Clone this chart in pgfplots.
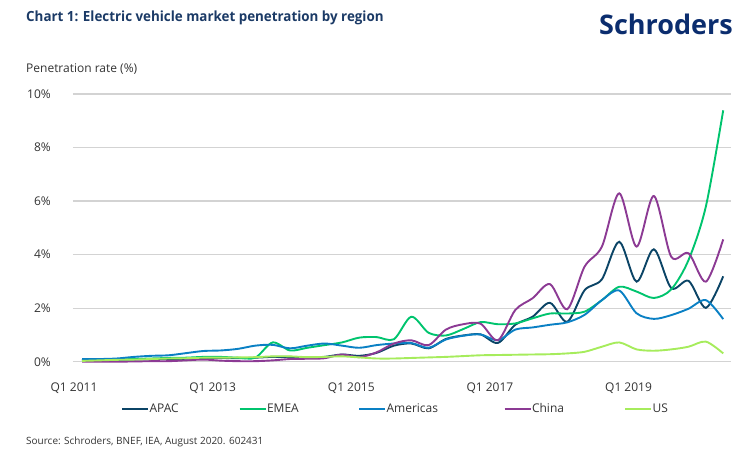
\documentclass[border=0pt]{standalone}
\usepackage{fontspec}
\setmainfont{Open Sans}
\newfontfamily\titlefont{Open Sans}[FakeStretch=0.955]
\usepackage{pgfplots}
\usepackage{pgfplotstable}
\pgfplotsset{compat=1.18}
\definecolor{apac}{HTML}{0B4466}
\definecolor{emea}{HTML}{00C46E}
\definecolor{amer}{HTML}{0A80C4}
\definecolor{china}{HTML}{8C3A94}
\definecolor{usc}{HTML}{A6EC5C}
\definecolor{titlec}{HTML}{1B3A66}
\definecolor{logoc}{HTML}{0B2D6E}
\definecolor{txt}{HTML}{333333}
\definecolor{gridc}{HTML}{D3D3D3}
\pgfplotstableread{
i apac emea amer china us
0 0.10 0.03 0.10 0.00 0.03
1 0.07 0.05 0.10 0.00 0.05
2 0.07 0.08 0.12 0.00 0.07
3 0.08 0.10 0.18 0.01 0.08
4 0.09 0.12 0.22 0.02 0.10
5 0.10 0.14 0.24 0.02 0.12
6 0.11 0.15 0.32 0.05 0.13
7 0.14 0.18 0.40 0.08 0.15
8 0.14 0.18 0.42 0.04 0.15
9 0.13 0.15 0.48 0.02 0.16
10 0.15 0.15 0.60 0.02 0.17
11 0.18 0.72 0.63 0.05 0.20
12 0.18 0.42 0.50 0.10 0.20
13 0.15 0.52 0.60 0.11 0.17
14 0.18 0.62 0.68 0.13 0.18
15 0.27 0.72 0.60 0.27 0.20
16 0.22 0.90 0.52 0.17 0.16
17 0.33 0.92 0.62 0.35 0.12
18 0.60 0.84 0.68 0.68 0.12
19 0.68 1.68 0.70 0.80 0.14
20 0.50 1.08 0.52 0.62 0.16
21 0.85 0.98 0.83 1.20 0.18
22 0.98 1.22 0.97 1.40 0.21
23 1.02 1.48 1.02 1.42 0.24
24 0.70 1.40 0.80 0.80 0.25
25 1.38 1.43 1.20 1.93 0.26
26 1.68 1.62 1.28 2.37 0.27
27 2.20 1.80 1.38 2.90 0.28
28 1.49 1.80 1.47 1.96 0.31
29 2.67 1.87 1.75 3.55 0.37
30 3.08 2.30 2.30 4.30 0.56
31 4.48 2.80 2.66 6.29 0.72
32 2.99 2.62 1.81 4.30 0.46
33 4.20 2.38 1.60 6.19 0.41
34 2.75 2.70 1.74 3.92 0.46
35 3.02 3.80 1.98 4.05 0.56
36 2.01 5.80 2.30 2.99 0.75
37 3.19 9.39 1.59 4.57 0.31
}\evdata
\begin{document}
\begin{tikzpicture}
\useasboundingbox (0pt,0pt) rectangle (750pt,-459pt);
\node[anchor=west, inner sep=0, text=titlec, font=\titlefont\bfseries\fontsize{14}{16}\selectfont] at (26pt,-18pt) {Chart 1: Electric vehicle market penetration by region};
\node[anchor=east, inner sep=0, text=logoc, font=\bfseries\fontsize{27}{30}\selectfont] at (733pt,-24pt) {Schroders};
\node[anchor=west, inner sep=0, text=txt, font=\fontsize{12}{14}\selectfont] at (26pt,-69pt) {Penetration rate (\%)};
\node[anchor=west, inner sep=0, text=txt, font=\fontsize{10}{12}\selectfont] at (26pt,-442pt) {Source: Schroders, BNEF, IEA, August 2020. 602431};
\begin{axis}[
  at={(73pt,-361.7pt)}, anchor=south west,
  scale only axis, width=658pt, height=267.7pt,
  xmin=-0.52, xmax=37.45, ymin=0, ymax=10,
  axis line style={draw=none}, tick style={draw=none},
  ymajorgrids, grid style={gridc, line width=1.3pt},
  ytick={0,2,4,6,8,10},
  yticklabels={0\%,2\%,4\%,6\%,8\%,10\%},
  xtick={0,8,16,24,32},
  xticklabels={Q1 2011,Q1 2013,Q1 2015,Q1 2017,Q1 2019},
  tick label style={text=txt, font=\fontsize{12}{14}\selectfont, inner sep=0pt},
  yticklabel style={anchor=east, xshift=-22pt},
  xticklabel style={anchor=north, yshift=-20.5pt, xshift=-8pt},
  clip=false,
  legend columns=5,
  legend style={at={(0.073,-0.1767)}, anchor=west, draw=none, fill=none,
    inner sep=0pt, outer sep=0pt,
    font=\fontsize{12}{14}\selectfont, text=txt,
    /tikz/every odd column/.append style={column sep=0.5pt},
    /tikz/every even column/.append style={column sep=0pt},
    nodes={inner sep=0pt, outer sep=0pt}},
  legend image code/.code={\draw[#1, line width=2pt] (0pt,0pt) -- (26pt,0pt);},
  every axis plot/.append style={line width=1.9pt, smooth},
]
\addplot[apac] table[x=i, y=apac] {\evdata};
\addlegendentry{\makebox[89pt][l]{APAC}}
\addplot[emea] table[x=i, y=emea] {\evdata};
\addlegendentry{\makebox[91pt][l]{EMEA}}
\addplot[amer] table[x=i, y=amer] {\evdata};
\addlegendentry{\makebox[117pt][l]{Americas}}
\addplot[china] table[x=i, y=china] {\evdata};
\addlegendentry{\makebox[92pt][l]{China}}
\addplot[usc] table[x=i, y=us] {\evdata};
\addlegendentry{US}
\end{axis}
\end{tikzpicture}
\end{document}
